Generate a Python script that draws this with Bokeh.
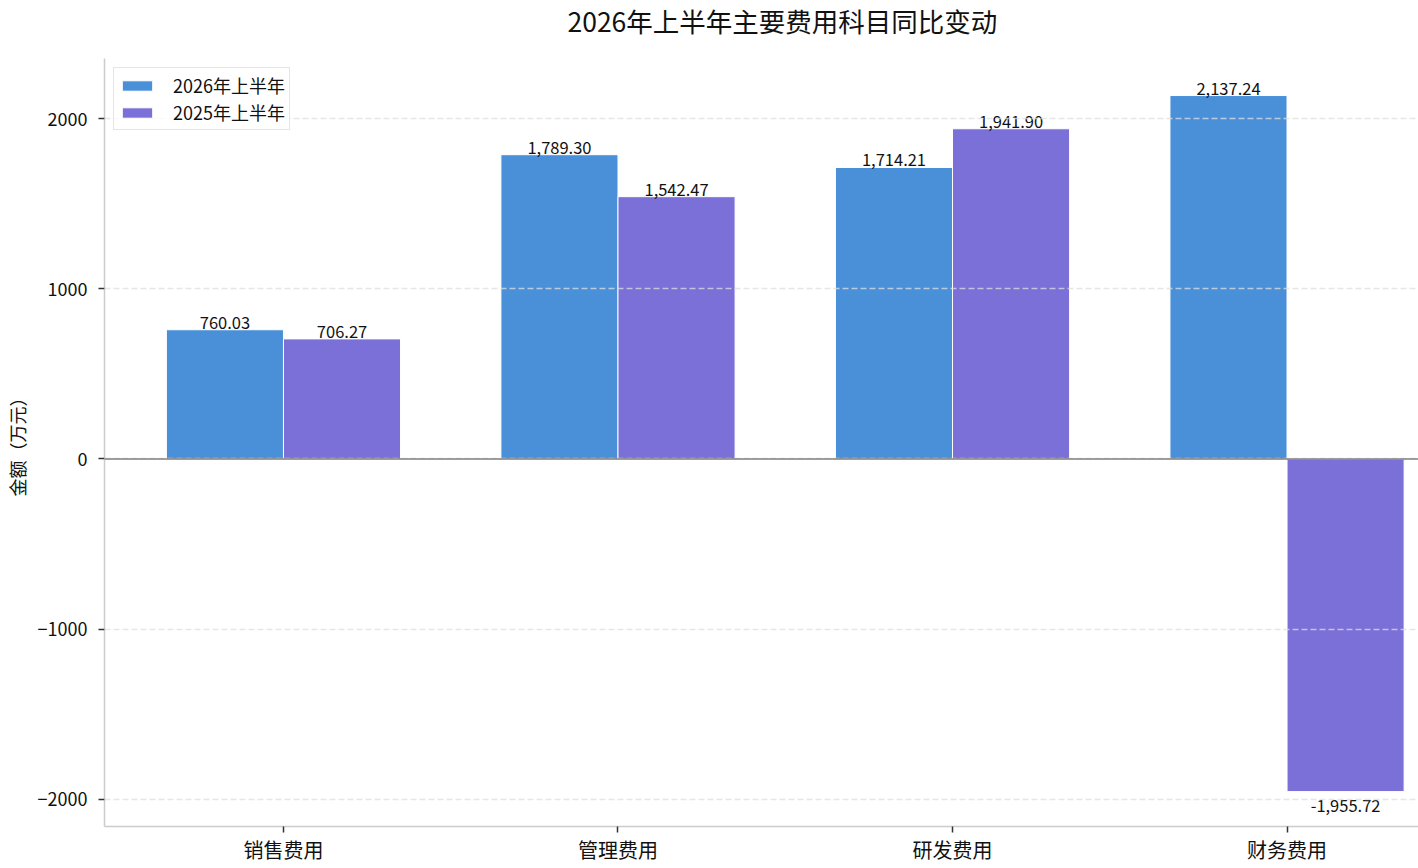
from bokeh.plotting import figure
from bokeh.models import ColumnDataSource, Range1d, FixedTicker, Span, Legend, LegendItem, Title
from bokeh.core.properties import value
from bokeh.transform import dodge
from bokeh.embed import file_html
from bokeh.resources import INLINE

categories = ["销售费用", "管理费用", "研发费用", "财务费用"]
series_names = ["2026年上半年", "2025年上半年"]
values_2026 = [760.03, 1789.30, 1714.21, 2137.24]
values_2025 = [706.27, 1542.47, 1941.90, -1955.72]
y_ticks = [-2000, -1000, 0, 1000, 2000]
y_tick_labels = ["−2000", "−1000", "0", "1000", "2000"]
title_text = "2026年上半年主要费用科目同比变动"
y_label = "金额（万元）"

FONT = "Noto Sans CJK SC"
COLORS = ["#4A90D9", "#7B6FD8"]
BAR_W = 0.35
OFFSETS = [-BAR_W / 2, BAR_W / 2]

idx = list(range(len(categories)))

p = figure(width=1418, height=868,
           x_range=Range1d(-0.535, 3.393), y_range=Range1d(-2161, 2355),
           output_backend="svg", toolbar_location=None,
           min_border_left=104, min_border_right=0, min_border_top=57, min_border_bottom=42)

p.outline_line_color = None
p.background_fill_color = "white"

# spacer between frame and title (nearest the frame), then the title above it
p.add_layout(Title(text=" ", text_font_size="10px", standoff=4, text_color="white"), "above")
p.add_layout(Title(text=title_text, align="left", offset=463, vertical_align="top", standoff=0,
                   text_font=FONT, text_font_size="26.5px", text_font_style="normal",
                   text_color="#111111"), "above")

renderers = []
for vals, off, col in zip([values_2026, values_2025], OFFSETS, COLORS):
    src = ColumnDataSource(dict(x=idx, top=vals))
    r = p.vbar(x=dodge("x", off), top="top", bottom=0, width=BAR_W, source=src,
               fill_color=col, line_color="white", line_width=1)
    renderers.append(r)
    pos = [(i, v) for i, v in zip(idx, vals) if v >= 0]
    neg = [(i, v) for i, v in zip(idx, vals) if v < 0]
    for items, base, yoff in [(pos, "bottom", -1), (neg, "top", 8)]:
        if not items:
            continue
        s = ColumnDataSource(dict(x=[a for a, _ in items], y=[b for _, b in items],
                                  t=[f"{b:,.2f}" for _, b in items]))
        p.text(x=dodge("x", off), y="y", text="t", source=s, text_align="center",
               text_baseline=base, y_offset=yoff, text_font=value(FONT),
               text_font_size="16.5px", text_color="#111111")

p.add_layout(Span(location=0, dimension="width", line_color="#7f7f7f", line_width=1.5))

# axes
p.xaxis.ticker = FixedTicker(ticks=idx)
p.xaxis.major_label_overrides = {i: c for i, c in zip(idx, categories)}
p.yaxis.ticker = FixedTicker(ticks=y_ticks)
p.yaxis.major_label_overrides = {t: l for t, l in zip(y_ticks, y_tick_labels)}
p.yaxis.axis_label = y_label

for ax in (p.xaxis, p.yaxis):
    ax.axis_line_color = "#cccccc"
    ax.axis_line_width = 1.5
    ax.major_tick_line_color = "#333333"
    ax.major_tick_line_width = 1.5
    ax.major_tick_out = 6
    ax.major_tick_in = 0
    ax.minor_tick_line_color = None
    ax.major_label_text_font = FONT
    ax.major_label_text_color = "#111111"

p.xaxis.major_label_text_font_size = "20px"
p.xaxis.major_label_standoff = 2
p.yaxis.major_label_text_font_size = "18px"
p.yaxis.major_label_standoff = 11
p.yaxis.axis_label_text_font = FONT
p.yaxis.axis_label_text_font_size = "18px"
p.yaxis.axis_label_text_font_style = "normal"
p.yaxis.axis_label_text_color = "#111111"
p.yaxis.axis_label_standoff = 5

p.xgrid.visible = False
p.ygrid.ticker = FixedTicker(ticks=y_ticks)
p.ygrid.grid_line_color = "#dddddd"
p.ygrid.grid_line_alpha = 0.75
p.ygrid.grid_line_width = 1.3
p.ygrid.grid_line_dash = "6 3"
p.ygrid.level = "guide"

legend = Legend(items=[LegendItem(label=n, renderers=[r]) for n, r in zip(series_names, renderers)],
                location="top_left")
legend.label_text_font = FONT
legend.label_text_font_size = "18px"
legend.label_text_color = "#111111"
legend.glyph_width = 38
legend.glyph_height = 13
legend.label_standoff = 17
legend.label_height = 22
legend.padding = 4
legend.spacing = 1
legend.margin = 9
legend.border_line_color = "#cccccc"
legend.border_line_width = 1.5
legend.background_fill_alpha = 0.8
p.add_layout(legend)

open("out.html", "w").write(file_html(p, INLINE))
